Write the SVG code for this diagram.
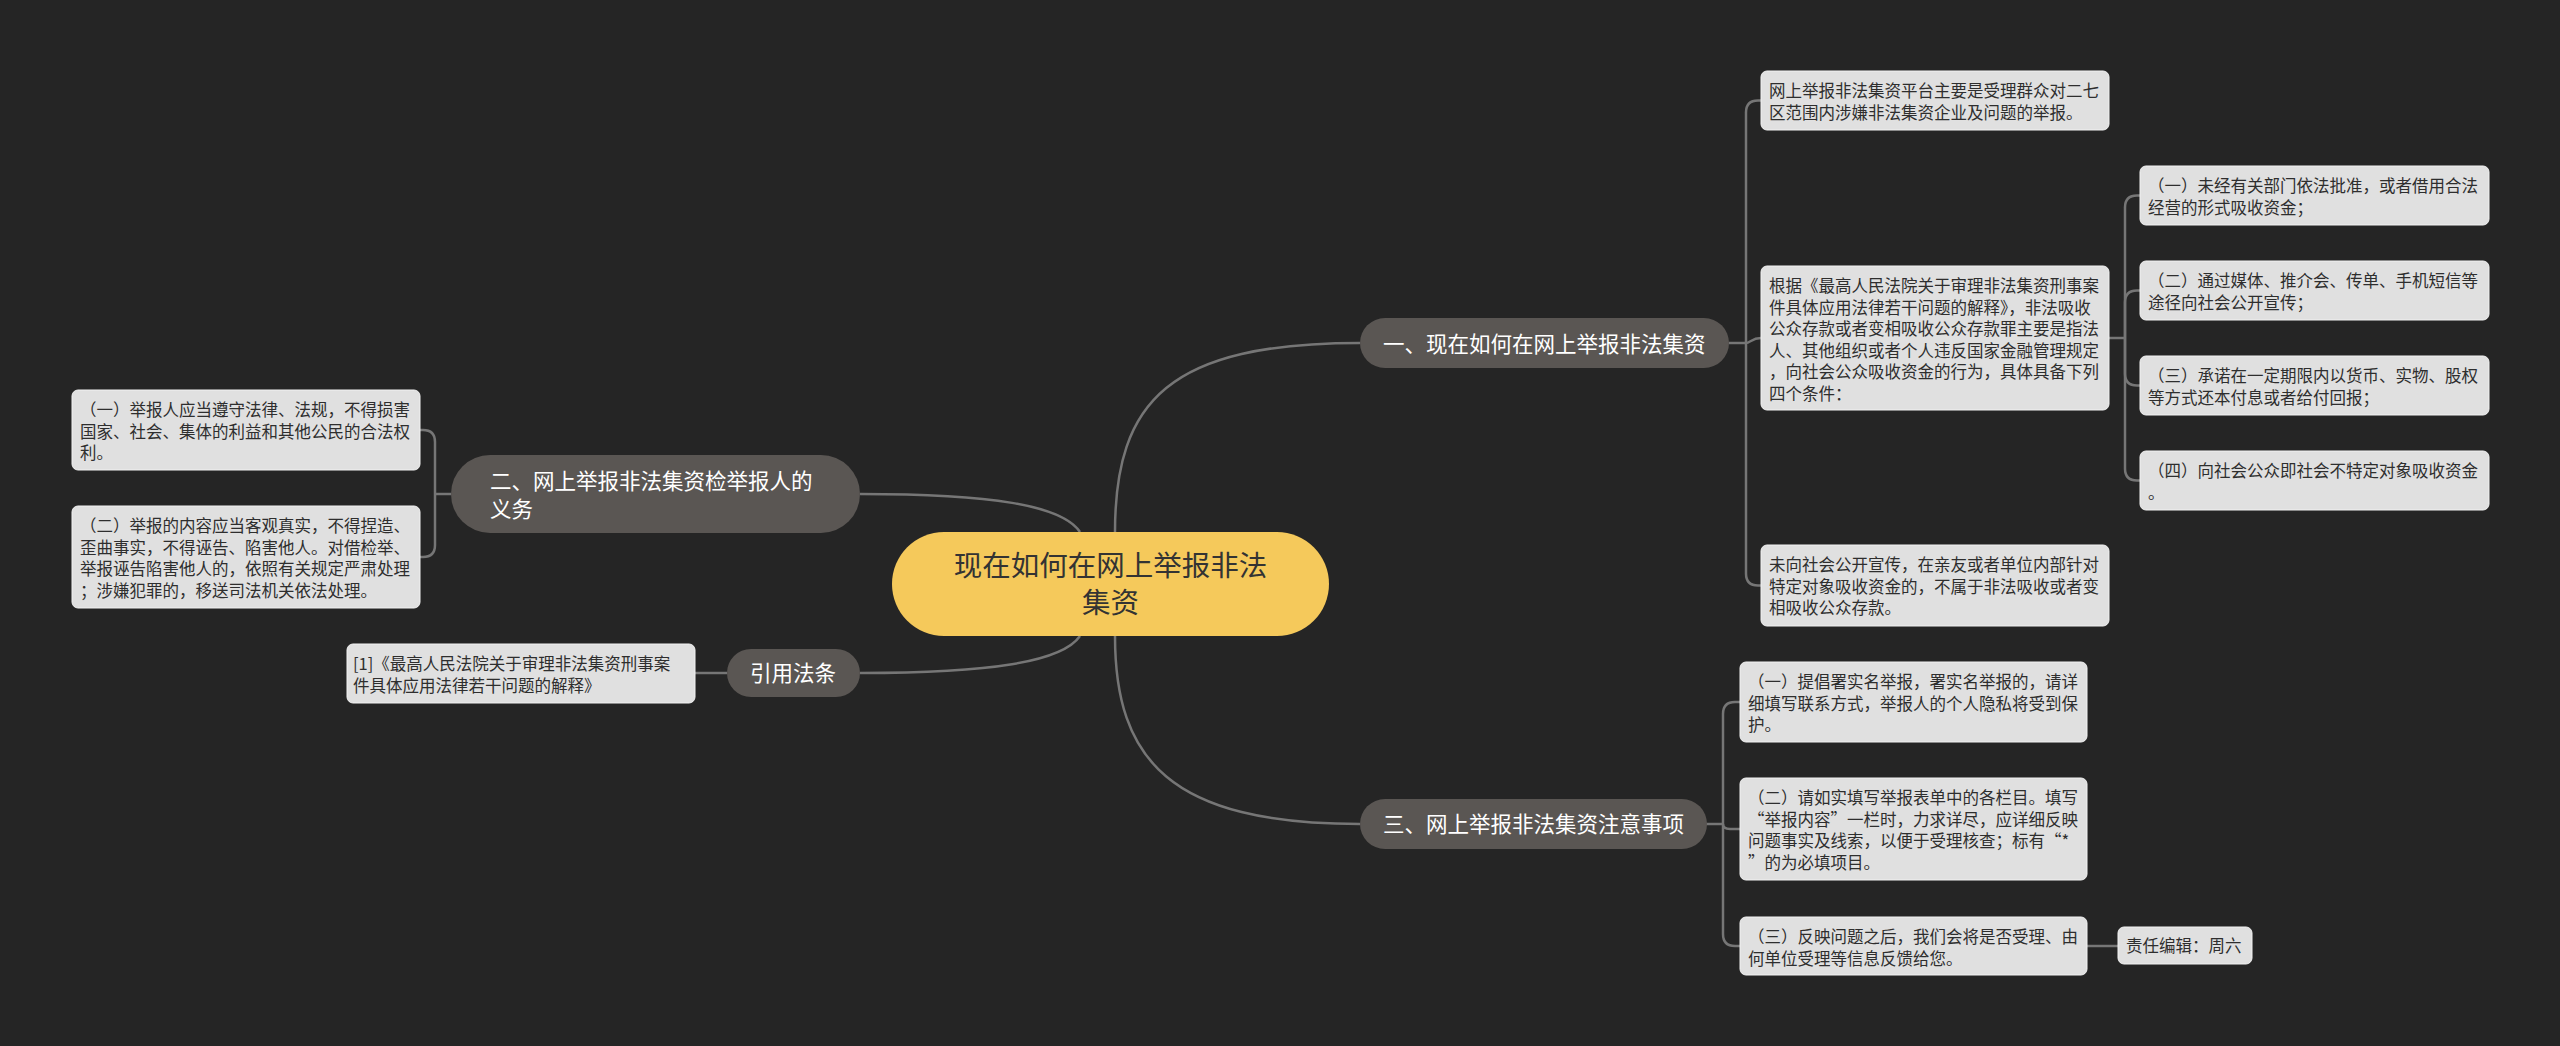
<svg xmlns="http://www.w3.org/2000/svg" width="2560" height="1046" viewBox="0 0 2560 1046">
<style>
text{font-family:"Noto Sans CJK SC","Noto Sans",sans-serif}
.bg{fill:#252525}
.leaf{fill:#e0e0e0;stroke:#f2f2f2;stroke-width:1}
.lt{font-size:16.5px;fill:#2e2e2e}
.main{fill:#5a5653}
.mt{font-size:21.5px;fill:#ffffff}
.root{fill:#f5c95b}
.rt{font-size:28.5px;fill:#333333;text-anchor:middle}
.conn path{fill:none;stroke:#767676;stroke-width:2.5}
</style>
<rect class="bg" x="0" y="0" width="2560" height="1046"/>
<g class="conn">
<path d="M1115,532 C1115,400 1170,343 1360,343"/>
<path d="M1115,636 C1115,760 1170,824 1360,824"/>
<path d="M1080,532 C1062,505 990,494 860,494"/>
<path d="M1080,636 C1062,662 990,673 860,673"/>
<path d="M1729,343 H1746"/>
<path d="M1746,343 V112.5 Q1746,100.5 1758,100.5 H1761"/>
<path d="M1746,343 C1750,343 1752,338 1761,338"/>
<path d="M1746,343 V573.5 Q1746,585.5 1758,585.5 H1761"/>
<path d="M2109,338 H2125"/>
<path d="M2125,338 V207.5 Q2125,195.5 2137,195.5 H2140"/>
<path d="M2125,338 V302.5 Q2125,290.5 2137,290.5 H2140"/>
<path d="M2125,338 V373.5 Q2125,385.5 2137,385.5 H2140"/>
<path d="M2125,338 V468.5 Q2125,480.5 2137,480.5 H2140"/>
<path d="M451,494 H435"/>
<path d="M435,494 V442 Q435,430 423,430 H420"/>
<path d="M435,494 V545 Q435,557 423,557 H420"/>
<path d="M695,673 H727"/>
<path d="M1706,824 H1723"/>
<path d="M1723,824 V714 Q1723,702 1735,702 H1740"/>
<path d="M1723,824 Q1723,829 1730,829 H1740"/>
<path d="M1723,824 V934 Q1723,946 1735,946 H1740"/>
<path d="M2087,946 H2118"/>
</g>
<g id="root">
<rect class="root" x="892" y="532" width="437" height="104" rx="52"/>
<text class="rt" x="1110.5" y="576">现在如何在网上举报非法</text>
<text class="rt" x="1110.5" y="613">集资</text>
</g>
<g id="n1">
<rect class="main" x="1360" y="318" width="369" height="50" rx="25"/>
<text class="mt" x="1383" y="352">一、现在如何在网上举报非法集资</text>
</g>
<g id="n1c1">
<rect class="leaf" x="1761" y="71" width="348" height="59" rx="6"/>
<text class="lt" x="1769" y="97">网上举报非法集资平台主要是受理群众对二七</text>
<text class="lt" x="1769" y="118.5">区范围内涉嫌非法集资企业及问题的举报。</text>
</g>
<g id="n1c2">
<rect class="leaf" x="1761" y="266" width="348" height="144" rx="6"/>
<text class="lt" x="1769" y="292">根据《最高人民法院关于审理非法集资刑事案</text>
<text class="lt" x="1769" y="313.5">件具体应用法律若干问题的解释》，非法吸收</text>
<text class="lt" x="1769" y="335">公众存款或者变相吸收公众存款罪主要是指法</text>
<text class="lt" x="1769" y="356.5">人、其他组织或者个人违反国家金融管理规定</text>
<text class="lt" x="1769" y="378">，向社会公众吸收资金的行为，具体具备下列</text>
<text class="lt" x="1769" y="399.5">四个条件：</text>
</g>
<g id="n1c2a">
<rect class="leaf" x="2140" y="166" width="349" height="59" rx="6"/>
<text class="lt" x="2148" y="192">（一）未经有关部门依法批准，或者借用合法</text>
<text class="lt" x="2148" y="213.5">经营的形式吸收资金；</text>
</g>
<g id="n1c2b">
<rect class="leaf" x="2140" y="261" width="349" height="59" rx="6"/>
<text class="lt" x="2148" y="287">（二）通过媒体、推介会、传单、手机短信等</text>
<text class="lt" x="2148" y="308.5">途径向社会公开宣传；</text>
</g>
<g id="n1c2c">
<rect class="leaf" x="2140" y="356" width="349" height="59" rx="6"/>
<text class="lt" x="2148" y="382">（三）承诺在一定期限内以货币、实物、股权</text>
<text class="lt" x="2148" y="403.5">等方式还本付息或者给付回报；</text>
</g>
<g id="n1c2d">
<rect class="leaf" x="2140" y="451" width="349" height="59" rx="6"/>
<text class="lt" x="2148" y="477">（四）向社会公众即社会不特定对象吸收资金</text>
<text class="lt" x="2148" y="498.5">。</text>
</g>
<g id="n1c3">
<rect class="leaf" x="1761" y="545" width="348" height="81" rx="6"/>
<text class="lt" x="1769" y="571">未向社会公开宣传，在亲友或者单位内部针对</text>
<text class="lt" x="1769" y="592.5">特定对象吸收资金的，不属于非法吸收或者变</text>
<text class="lt" x="1769" y="614">相吸收公众存款。</text>
</g>
<g id="n2">
<rect class="main" x="451" y="455" width="409" height="78" rx="39"/>
<text class="mt" x="490" y="489">二、网上举报非法集资检举报人的</text>
<text class="mt" x="490" y="516.5">义务</text>
</g>
<g id="n2c1">
<rect class="leaf" x="72" y="390" width="348" height="80" rx="6"/>
<text class="lt" x="80" y="416">（一）举报人应当遵守法律、法规，不得损害</text>
<text class="lt" x="80" y="437.5">国家、社会、集体的利益和其他公民的合法权</text>
<text class="lt" x="80" y="459">利。</text>
</g>
<g id="n2c2">
<rect class="leaf" x="72" y="506" width="348" height="102" rx="6"/>
<text class="lt" x="80" y="532">（二）举报的内容应当客观真实，不得捏造、</text>
<text class="lt" x="80" y="553.5">歪曲事实，不得诬告、陷害他人。对借检举、</text>
<text class="lt" x="80" y="575">举报诬告陷害他人的，依照有关规定严肃处理</text>
<text class="lt" x="80" y="596.5">；涉嫌犯罪的，移送司法机关依法处理。</text>
</g>
<g id="n4">
<rect class="main" x="727" y="649" width="133" height="48" rx="24"/>
<text class="mt" x="750" y="681">引用法条</text>
</g>
<g id="n4c1">
<rect class="leaf" x="347" y="644" width="348" height="59" rx="6"/>
<text class="lt" x="353" y="670">[1]《最高人民法院关于审理非法集资刑事案</text>
<text class="lt" x="353" y="691.5">件具体应用法律若干问题的解释》</text>
</g>
<g id="n3">
<rect class="main" x="1360" y="799" width="347" height="50" rx="25"/>
<text class="mt" x="1383" y="832">三、网上举报非法集资注意事项</text>
</g>
<g id="n3c1">
<rect class="leaf" x="1740" y="662" width="347" height="80" rx="6"/>
<text class="lt" x="1748" y="688">（一）提倡署实名举报，署实名举报的，请详</text>
<text class="lt" x="1748" y="709.5">细填写联系方式，举报人的个人隐私将受到保</text>
<text class="lt" x="1748" y="731">护。</text>
</g>
<g id="n3c2">
<rect class="leaf" x="1740" y="778" width="347" height="102" rx="6"/>
<text class="lt" x="1748" y="804">（二）请如实填写举报表单中的各栏目。填写</text>
<text class="lt" x="1748" y="825.5">“举报内容”一栏时，力求详尽，应详细反映</text>
<text class="lt" x="1748" y="847">问题事实及线索，以便于受理核查；标有“*</text>
<text class="lt" x="1748" y="868.5">”的为必填项目。</text>
</g>
<g id="n3c3">
<rect class="leaf" x="1740" y="917" width="347" height="58" rx="6"/>
<text class="lt" x="1748" y="943">（三）反映问题之后，我们会将是否受理、由</text>
<text class="lt" x="1748" y="964.5">何单位受理等信息反馈给您。</text>
</g>
<g id="n3c3a">
<rect class="leaf" x="2118" y="927" width="134" height="37" rx="6"/>
<text class="lt" x="2126" y="951.5">责任编辑：周六</text>
</g>
</svg>
